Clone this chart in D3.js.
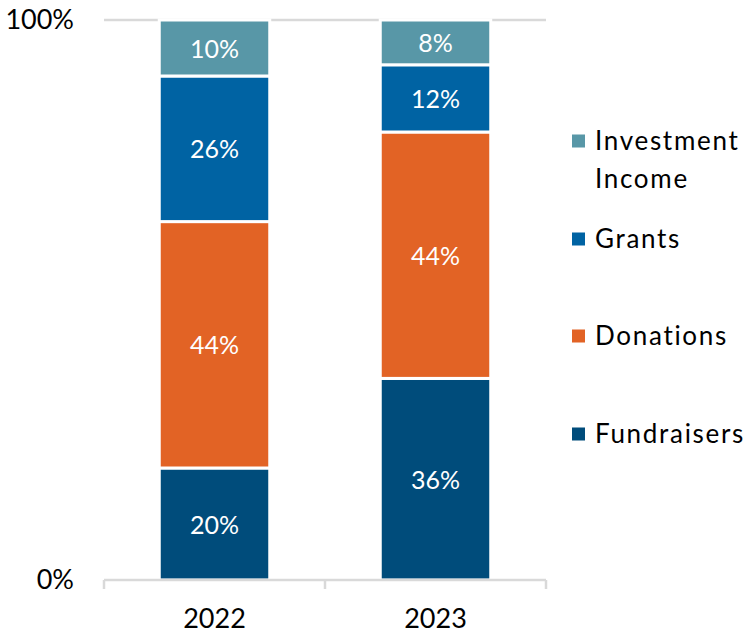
<!DOCTYPE html>
<html>
<head>
<meta charset="utf-8">
<script src="https://cdn.jsdelivr.net/npm/d3@7"></script>
<style>
  body { margin: 0; background: #fff; }
  text { font-family: Lato, "Open Sans", sans-serif; }
</style>
</head>
<body>
<svg id="chart"></svg>
<script>
var YEARS = ["2022", "2023"];
var SOURCES = ["Fundraisers", "Donations", "Grants", "Investment Income"];
var FUNDRAISERS = [20, 36];
var DONATIONS = [44, 44];
var GRANTS = [26, 12];
var INVESTMENT = [10, 8];
var Y_TICKS = [0, 100];

var COLORS = ["#004c7b", "#e26325", "#0063a3", "#5897a7"];

make_chart = function () {

    var width = 745, height = 636;
    var margin = { top: 20, right: 199, bottom: 56, left: 104 };

    var data = YEARS.map(function (y, i) {
        return {
            year: y,
            "Fundraisers": FUNDRAISERS[i],
            "Donations": DONATIONS[i],
            "Grants": GRANTS[i],
            "Investment Income": INVESTMENT[i]
        };
    });

    var series = d3.stack().keys(SOURCES)(data);

    var x = d3.scaleBand()
        .domain(YEARS)
        .range([margin.left, width - margin.right])
        .paddingInner(0.5)
        .paddingOuter(0.25);

    var y = d3.scaleLinear()
        .domain([0, 100])
        .range([height - margin.bottom, margin.top]);

    var color = d3.scaleOrdinal().domain(SOURCES).range(COLORS);

    var svg = d3.select("#chart")
        .attr("width", width)
        .attr("height", height)
        .attr("viewBox", [0, 0, width, height]);

    // top gridline
    svg.append("g")
        .selectAll("line")
        .data(Y_TICKS.filter(d => d > 0))
        .join("line")
        .attr("x1", margin.left)
        .attr("x2", width - margin.right)
        .attr("y1", d => y(d))
        .attr("y2", d => y(d))
        .attr("stroke", "#d9d9d9")
        .attr("stroke-width", 2.5);

    // bars
    svg.append("g")
        .selectAll("g")
        .data(series)
        .join("g")
        .attr("fill", d => color(d.key))
        .selectAll("rect")
        .data(d => d)
        .join("rect")
        .attr("x", d => x(d.data.year))
        .attr("width", x.bandwidth())
        .attr("y", d => y(d[1]))
        .attr("height", d => y(d[0]) - y(d[1]))
        .attr("stroke", "#fff")
        .attr("stroke-width", 3);

    // labels in segments
    svg.append("g")
        .selectAll("g")
        .data(series)
        .join("g")
        .selectAll("text")
        .data(d => d)
        .join("text")
        .attr("x", d => x(d.data.year) + x.bandwidth() / 2)
        .attr("y", d => (y(d[0]) + y(d[1])) / 2)
        .attr("dy", "0.38em")
        .attr("text-anchor", "middle")
        .attr("fill", "#fff")
        .attr("font-size", 25)
        .text(d => (d[1] - d[0]) + "%");

    // x axis
    var xAxis = g => g
        .attr("transform", `translate(0,${height - margin.bottom})`)
        .call(d3.axisBottom(x).tickSize(0).tickPadding(29))
        .call(g => g.select(".domain").remove())
        .call(g => g.selectAll("text").attr("font-size", 27).attr("fill", "#000")
            .style("font-family", "Lato, sans-serif"));

    var gx = svg.append("g").call(xAxis);
    gx.append("line")
        .attr("x1", margin.left).attr("x2", width - margin.right)
        .attr("stroke", "#d9d9d9").attr("stroke-width", 2.5);
    var edges = [margin.left, (margin.left + width - margin.right) / 2, width - margin.right];
    gx.selectAll(".edge")
        .data(edges)
        .join("line")
        .attr("class", "edge")
        .attr("x1", d => d).attr("x2", d => d)
        .attr("y1", 0).attr("y2", 9)
        .attr("stroke", "#d9d9d9").attr("stroke-width", 2.5);

    // y axis
    var yAxis = g => g
        .attr("transform", `translate(${margin.left - 30},0)`)
        .call(d3.axisLeft(y).tickValues(Y_TICKS).tickSize(0).tickPadding(0).tickFormat(d => d + "%"))
        .call(g => g.select(".domain").remove())
        .call(g => g.selectAll("text").attr("font-size", 27).attr("fill", "#000")
            .style("font-family", "Lato, sans-serif"));
    svg.append("g").call(yAxis);

    // legend
    var legendItems = [
        { key: "Investment Income", lines: ["Investment", "Income"], y: 141 },
        { key: "Grants", lines: ["Grants"], y: 239 },
        { key: "Donations", lines: ["Donations"], y: 336 },
        { key: "Fundraisers", lines: ["Fundraisers"], y: 434 }
    ];
    var legend = svg.append("g")
        .selectAll("g")
        .data(legendItems)
        .join("g")
        .attr("transform", d => `translate(572,${d.y})`);
    legend.append("rect")
        .attr("x", 0).attr("y", -6.5)
        .attr("width", 13).attr("height", 13)
        .attr("fill", d => color(d.key));
    legend.append("text")
        .attr("x", 23)
        .attr("font-size", 26)
        .attr("letter-spacing", 1.7)
        .attr("fill", "#000")
        .selectAll("tspan")
        .data(d => d.lines)
        .join("tspan")
        .attr("x", 23)
        .attr("y", (d, i) => i * 38)
        .attr("dy", "0.35em")
        .text(d => d);
}

make_chart();
</script>
</body>
</html>
